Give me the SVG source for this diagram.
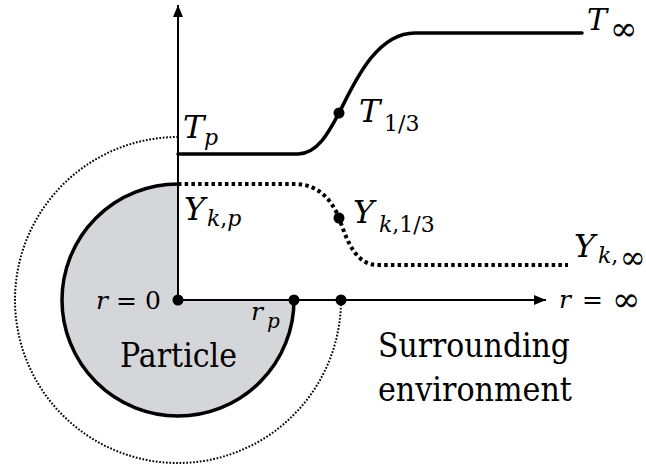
<svg xmlns="http://www.w3.org/2000/svg" width="646" height="468" viewBox="0 0 646 468">
<defs>
<style>
.axis{fill:none;stroke:#000;stroke-width:2}
.thick{fill:none;stroke:#000;stroke-width:3.5;stroke-linecap:round;stroke-linejoin:round}
.dotted{fill:none;stroke:#000;stroke-width:4;stroke-dasharray:3.5 3.2}
.fine{fill:none;stroke:#000;stroke-width:2;stroke-dasharray:1.7 1.7}
.dot{fill:#000}
text{font-family:'DejaVu Serif',serif;fill:#000}
.m{font-style:italic;font-size:32px}
.s{font-size:22px}
.u{font-style:normal}
.lbl{font-size:33px}
</style>
<marker id="arr" viewBox="0 0 12 10" refX="12" refY="5" markerWidth="12" markerHeight="10" markerUnits="userSpaceOnUse" orient="auto">
<path d="M0,0 L12,5 L0,10 Z" fill="#000"/>
</marker>
</defs>
<rect width="646" height="468" fill="#fff"/>
<g id="outer-boundary">
<path class="fine" d="M178,137 A163,163 0 1 0 341,300"/>
</g>
<g id="particle">
<path d="M178,300 L178,184 A116,116 0 1 0 294,300 Z" fill="#d5d6da"/>
<path class="thick" d="M178,184 A116,116 0 1 0 294,300"/>
<text class="lbl" x="120" y="367" textLength="117" lengthAdjust="spacingAndGlyphs">Particle</text>
</g>
<g id="environment">
<text class="lbl" x="378" y="357" textLength="192" lengthAdjust="spacingAndGlyphs">Surrounding</text>
<text class="lbl" x="378" y="401" textLength="194" lengthAdjust="spacingAndGlyphs">environment</text>
</g>
<g id="connectors">
<line class="axis" x1="178" y1="300" x2="178" y2="5" marker-end="url(#arr)"/>
<line class="axis" x1="178" y1="300" x2="546" y2="300" marker-end="url(#arr)"/>
<path class="thick" d="M178,154 L298,154 C318,154 330,130 339,113 C353,86 375,33 415,33 L582,33"/>
<path class="dotted" d="M178,184 L295,184 C318,184 332,200 339,218 C347,240 355,265 378,265 L568,265"/>
</g>
<g id="points">
<circle class="dot" cx="178" cy="300" r="5.5"/>
<circle class="dot" cx="294" cy="300" r="5.5"/>
<circle class="dot" cx="341" cy="300" r="5.5"/>
<circle class="dot" cx="339" cy="113" r="5.5"/>
<circle class="dot" cx="339" cy="218" r="5.5"/>
</g>
<g id="labels">
<text class="m" x="183" y="138">T<tspan class="s" x="204" y="145">p</tspan></text>
<text class="m" x="184" y="220">Y<tspan class="s" x="207" y="226">k<tspan class="u">,</tspan>p</tspan></text>
<text class="m" x="587" y="30" style="font-size:30px">T<tspan class="u" x="610" y="40" style="font-size:33px">∞</tspan></text>
<text class="m" x="359" y="122">T<tspan class="s u" x="384" y="131">1/3</tspan></text>
<text class="m" x="353" y="223">Y<tspan class="s" x="379" y="232">k<tspan class="u">,1/3</tspan></tspan></text>
<text class="m" x="574" y="257">Y<tspan class="s" x="598" y="263">k<tspan class="u">,</tspan></tspan><tspan class="u" x="620" y="268" style="font-size:31px">∞</tspan></text>
<text class="m" x="96" y="309" style="font-size:25px">r<tspan class="u" x="116">=</tspan><tspan class="u" x="145">0</tspan></text>
<text class="m" x="559" y="308" style="font-size:25px">r<tspan class="u" x="582">=</tspan><tspan class="u" x="612" y="311" style="font-size:34px">∞</tspan></text>
<text class="m" x="251" y="320" style="font-size:25px">r<tspan class="s" x="267" y="328" style="font-size:20px">p</tspan></text>
</g>
</svg>
